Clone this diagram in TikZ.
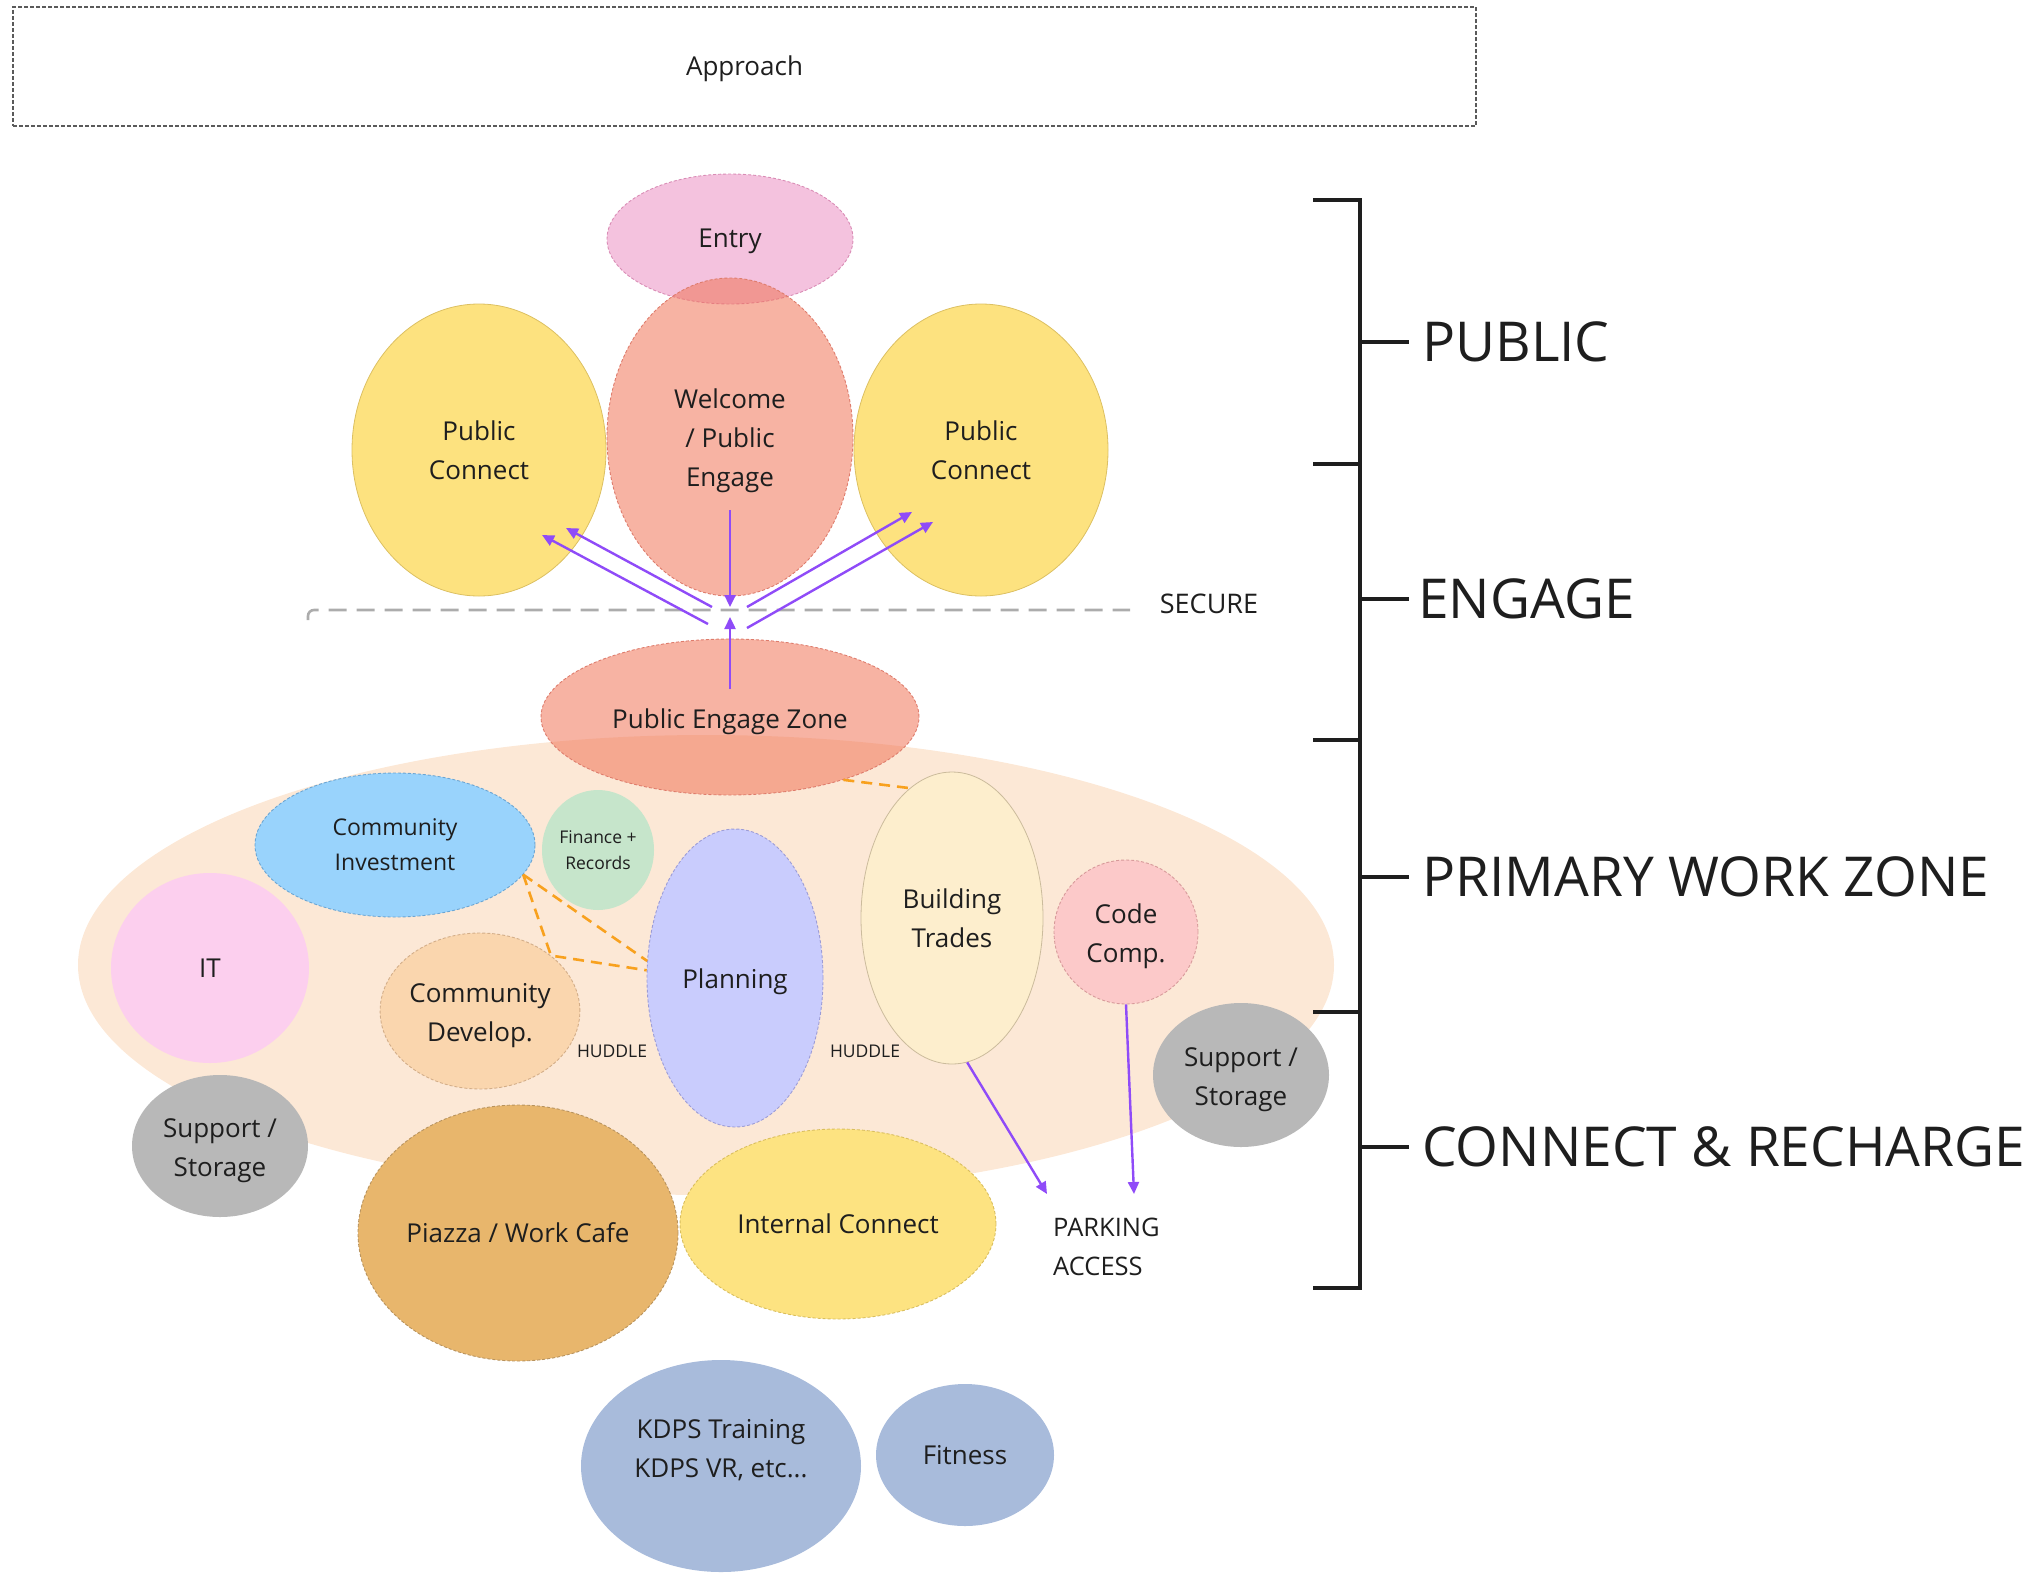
\documentclass[tikz,border=0pt]{standalone}
\usepackage{fontspec}
\setmainfont{Open Sans}
\usetikzlibrary{shapes.geometric,arrows.meta}

\definecolor{ink}{HTML}{1E1E1E}
\definecolor{entryc}{HTML}{F4C2DE}
\definecolor{entryrim}{HTML}{D98CB5}
\definecolor{welcomec}{HTML}{F07457}
\definecolor{welcomerim}{HTML}{DE7C6C}
\definecolor{pubc}{HTML}{FDE27F}
\definecolor{pubrim}{HTML}{DCC062}
\definecolor{peachc}{HTML}{FCE8D6}
\definecolor{investc}{HTML}{99D3FC}
\definecolor{investrim}{HTML}{6BA5D3}
\definecolor{financec}{HTML}{C6E5CB}
\definecolor{itc}{HTML}{FCCFEE}
\definecolor{developc}{HTML}{FAD6AE}
\definecolor{developrim}{HTML}{D3AE89}
\definecolor{planc}{HTML}{C9CCFD}
\definecolor{planrim}{HTML}{9C9CD6}
\definecolor{tradesc}{HTML}{FDEECD}
\definecolor{tradesrim}{HTML}{CBBB9C}
\definecolor{codec}{HTML}{FCC9C9}
\definecolor{coderim}{HTML}{D79A9A}
\definecolor{storec}{HTML}{B8B8B8}
\definecolor{piazzac}{HTML}{E8B66C}
\definecolor{piazzarim}{HTML}{B8935E}
\definecolor{internalc}{HTML}{FDE381}
\definecolor{internalrim}{HTML}{D9BE5E}
\definecolor{kdpsc}{HTML}{A8BBDB}
\definecolor{flowc}{HTML}{8F4BF8}
\definecolor{linkc}{HTML}{F8A11E}
\definecolor{securec}{HTML}{ACACAC}
\definecolor{approachc}{HTML}{5A5A5A}

% strut that pushes a label down inside its bubble
\newcommand{\toplift}[1]{\rule{0pt}{#1}}

\begin{document}
\begin{tikzpicture}[x=1pt, y=-1pt,
  room/.style={ellipse, inner sep=0pt, align=center, text=ink, font=\fontsize{26}{39}\selectfont},
  rim/.style={draw=#1, line width=0.9pt, dash pattern=on 3pt off 2pt},
  glass/.style={fill=#1, fill opacity=0.55, text opacity=1},
  flow/.style={draw=flowc, line width=2.4pt, -{Triangle[length=12pt, width=11pt]}},
  link/.style={draw=linkc, line width=2.6pt, dash pattern=on 11pt off 7pt},
  tag/.style={text=ink, inner sep=0pt, font=\fontsize{17.5}{26}\selectfont},
  zonetag/.style={anchor=west, inner sep=0pt, text=ink, font=\fontsize{55}{60}\selectfont}]

\useasboundingbox (0,0) rectangle (2044,1574);

% approach strip
\node (approach) at (744.5,66.5) [draw=approachc, line width=1.2pt, dash pattern=on 4pt off 2pt,
  minimum width=1463pt, minimum height=119pt, text=ink, font=\fontsize{26}{39}\selectfont] {\toplift{25pt}Approach};

% primary work zone underlay
\node (work) at (706,965) [ellipse, fill=peachc, minimum width=1256pt, minimum height=460pt] {};

% public side
\node (entry) at (730,239) [room, fill=entryc, rim=entryrim, minimum width=246pt, minimum height=130pt] {\toplift{24pt}Entry};
\node (welcome) at (730,437) [room, glass=welcomec, rim=welcomerim, minimum width=246pt, minimum height=318pt] {\toplift{28pt}Welcome\\/ Public\\Engage};
\node (pubL) at (479,450) [room, fill=pubc, draw=pubrim, line width=0.8pt, minimum width=254pt, minimum height=292pt] {Public\\Connect};
\node (pubR) at (981,450) [room, fill=pubc, draw=pubrim, line width=0.8pt, minimum width=254pt, minimum height=292pt] {Public\\Connect};

% secure line
\draw[securec, line width=2.6pt, dash pattern=on 18pt off 10pt, rounded corners=6pt] (308,620) -- (308,610) -- (1130,610);
\node (secure) at (1209,604) [text=ink, font=\fontsize{27}{30}\selectfont] {SECURE};

\node (engage) at (730,717) [room, glass=welcomec, rim=welcomerim, minimum width=378pt, minimum height=156pt] {\toplift{30pt}Public Engage Zone};

% work zone rooms
\node (invest) at (395,845) [room, fill=investc, rim=investrim, minimum width=280pt, minimum height=144pt, font=\fontsize{23}{35}\selectfont] {Community\\Investment};
\node (finance) at (598,850) [room, fill=financec, minimum width=112pt, minimum height=120pt, font=\fontsize{17.5}{26}\selectfont] {Finance +\\Records};
\node (it) at (210,968) [room, fill=itc, minimum width=198pt, minimum height=190pt] {IT};
\node (develop) at (480,1011) [room, fill=developc, rim=developrim, minimum width=198pt, minimum height=156pt] {\toplift{28pt}Community\\Develop.};
\node (plan) at (735,978) [room, fill=planc, rim=planrim, minimum width=176pt, minimum height=298pt] {\toplift{27.5pt}Planning};
\node (trades) at (952,918) [room, fill=tradesc, draw=tradesrim, line width=0.8pt, minimum width=182pt, minimum height=292pt] {Building\\Trades};
\node (code) at (1126,932) [room, fill=codec, rim=coderim, minimum width=144pt, minimum height=144pt] {\toplift{28pt}Code\\Comp.};
\node (storeR) at (1241,1075) [room, fill=storec, minimum width=176pt, minimum height=144pt] {\toplift{28pt}Support /\\Storage};
\node (storeL) at (220,1146) [room, fill=storec, minimum width=176pt, minimum height=142pt] {\toplift{28pt}Support /\\Storage};

\node (huddleL) at (612,1051) [tag] {HUDDLE};
\node (huddleR) at (865,1051) [tag] {HUDDLE};

% connect and recharge
\node (piazza) at (518,1233) [room, fill=piazzac, rim=piazzarim, minimum width=320pt, minimum height=256pt] {Piazza / Work Cafe};
\node (internal) at (838,1224) [room, fill=internalc, rim=internalrim, minimum width=316pt, minimum height=190pt] {Internal Connect};
\node (kdps) at (721,1466) [room, fill=kdpsc, minimum width=280pt, minimum height=212pt,
  label={[align=center, text=ink, font=\fontsize{26}{39}\selectfont, yshift=16pt]center:KDPS Training\\KDPS VR, etc...}] {};
\node (fitness) at (965,1455) [room, fill=kdpsc, minimum width=178pt, minimum height=142pt] {Fitness};

\node (parking) at (1053,1247) [anchor=west, align=left, inner sep=0pt, text=ink, font=\fontsize{25.5}{39}\selectfont] {PARKING\\ACCESS};

% circulation arrows
\coordinate (wIn) at (730,510);
\coordinate (wOut) at (730,607);
\coordinate (zIn) at (730,689);
\coordinate (zOut) at (730,617);
\coordinate (l1a) at (712,607);
\coordinate (l1b) at (566,528);
\coordinate (l2a) at (708,624);
\coordinate (l2b) at (542,535);
\coordinate (r1a) at (747,607);
\coordinate (r1b) at (912,512);
\coordinate (r2a) at (747,628);
\coordinate (r2b) at (933,522);
\coordinate (park1) at (1047,1194);
\coordinate (park2) at (1134,1194);

\draw[flow] (wIn) -- (wOut);
\draw[flow] (zIn) -- (zOut);
\draw[flow] (l1a) -- (l1b);
\draw[flow] (l2a) -- (l2b);
\draw[flow] (r1a) -- (r1b);
\draw[flow] (r2a) -- (r2b);
\draw[flow] (trades.-84) -- (park1);
\draw[flow] (code.-90) -- (park2);

% adjacencies
\draw[link] (engage.-29) -- (trades.108);
\draw[link] (invest.-13) -- (plan.169);
\draw[link] (invest.-13) -- (develop.38) -- (plan.175);

% zone bracket
\draw[ink, line width=4.5pt] (1313,200) -- (1360,200) -- (1360,1288) -- (1313,1288);
\foreach \y in {464,740,1012}
  \draw[ink, line width=4.5pt] (1313,\y) -- (1360,\y);
\foreach \y in {342,599,877,1147}
  \draw[ink, line width=4.5pt] (1360,\y) -- (1409,\y);

\node (public) at (1422,342) [zonetag] {PUBLIC};
\node (engagetag) at (1418,599) [zonetag] {ENGAGE};
\node (primary) at (1422,877) [zonetag] {PRIMARY WORK ZONE};
\node (recharge) at (1422,1147) [zonetag] {CONNECT \& RECHARGE};
\end{tikzpicture}
\end{document}
